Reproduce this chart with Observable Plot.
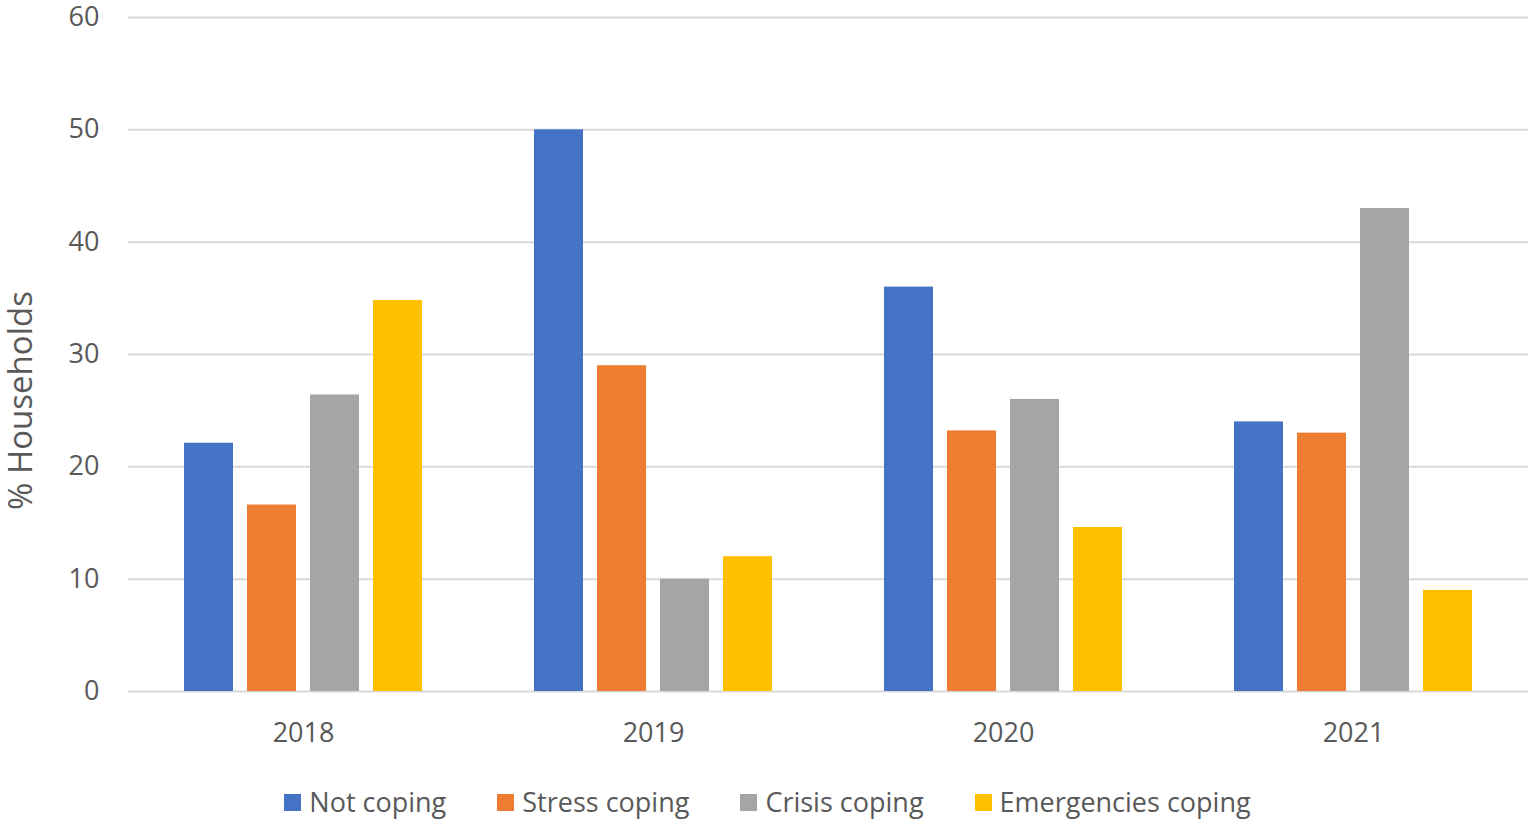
<!DOCTYPE html>
<html><head><meta charset="utf-8">
<script src="https://cdn.jsdelivr.net/npm/d3@7"></script>
<script src="https://cdn.jsdelivr.net/npm/@observablehq/plot@0.6"></script>
<style>
body{margin:0;background:#fff;font-family:"Open Sans",sans-serif;}
#legend{display:flex;justify-content:center;gap:51px;padding-top:25px;font-size:27px;color:#595959;line-height:34px;}
#legend .item{display:flex;align-items:center;}
#legend .sw{width:17px;height:17px;margin-right:8px;display:inline-block;}
</style></head><body><div id="chart"></div><div id="legend"></div><script>
const years = ["2018", "2019", "2020", "2021"];
const series = ["Not coping", "Stress coping", "Crisis coping", "Emergencies coping"];
const notCoping = [22.1, 50, 36, 24];
const stressCoping = [16.6, 29, 23.2, 23];
const crisisCoping = [26.4, 10, 26, 43];
const emergenciesCoping = [34.8, 12, 14.6, 9];
const colors = ["#4472C4", "#ED7D31", "#A5A5A5", "#FFC000"];
const yTicks = [0, 10, 20, 30, 40, 50, 60];
const yLabel = "% Households";

const valuesBySeries = [notCoping, stressCoping, crisisCoping, emergenciesCoping];
const data = [];
years.forEach((yr, i) => series.forEach((s, j) => data.push({year: yr, series: s, value: valuesBySeries[j][i]})));

const chart = Plot.plot({
  width: 1535,
  height: 760,
  marginLeft: 128,
  marginRight: 7,
  marginTop: 17,
  marginBottom: 69,
  style: {fontFamily: "Open Sans", fontSize: "27px", color: "#595959", background: "#fff", overflow: "visible"},
  fx: {domain: years, padding: 0, label: null, tickSize: 0, tickPadding: 31, axis: "bottom"},
  x: {domain: series, paddingInner: 0.22, paddingOuter: 0.875, axis: null},
  y: {domain: [0, 60], ticks: yTicks, tickSize: 0, tickPadding: 29, label: null},
  color: {domain: series, range: colors},
  marks: [
    Plot.gridY(yTicks, {stroke: "#d9d9d9", strokeOpacity: 1, strokeWidth: 2}),
    Plot.barY(data, {fx: "year", x: "series", y: "value", fill: "series"}),
    Plot.text([{label: yLabel, year: years[0]}], {fx: "year", text: "label", frameAnchor: "left", textAnchor: "middle", dx: -107, dy: 46, rotate: -90, fontSize: 33, fill: "#595959"})
  ]
});
document.getElementById("chart").appendChild(chart);

const leg = document.getElementById("legend");
series.forEach((s, j) => {
  const it = document.createElement("div");
  it.className = "item";
  const sw = document.createElement("span");
  sw.className = "sw";
  sw.style.background = colors[j];
  it.appendChild(sw);
  it.appendChild(document.createTextNode(s));
  leg.appendChild(it);
});
</script></body></html>
